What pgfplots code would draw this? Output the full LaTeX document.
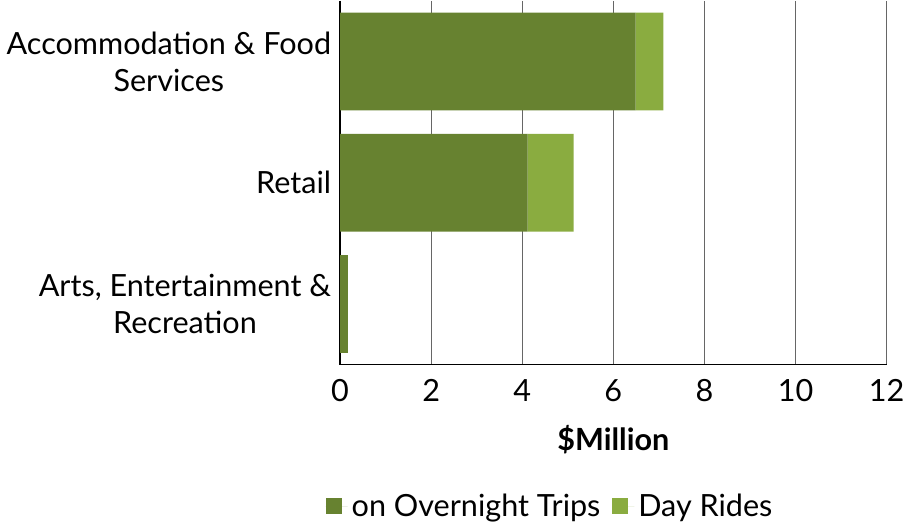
\documentclass[border=0pt]{standalone}
\usepackage{pgfplots}
\pgfplotsset{compat=1.18}
\usepackage{fontspec}
\setmainfont{Lato}
\definecolor{darkg}{HTML}{678230}
\definecolor{lightg}{HTML}{8AAC40}
\newcommand{\fs}{\fontsize{15.3}{18.5}\selectfont}
\begin{document}
\begin{tikzpicture}
\begin{axis}[
  scale only axis,
  width=273.5pt, height=182pt,
  xbar stacked,
  bar width=49pt,
  xmin=0, xmax=12,
  ymin=-0.5, ymax=2.5,
  y dir=reverse,
  ytick={0,1,2},
  yticklabels={{Accommodation \& Food\\Services},{Retail},{Arts, Entertainment \&\\Recreation}},
  yticklabel style={align=center, font=\fs, xshift=-1pt},
  xtick={0,2,4,6,8,10,12},
  xticklabel style={font=\fs, yshift=-4pt},
  /pgf/number format/assume math mode=true,
  xlabel={\textbf{\$Million}},
  xlabel style={font=\fs, yshift=-5pt},
  axis x line*=bottom,
  axis y line*=left,
  axis line style={black, line width=0.9pt},
  xmajorgrids,
  grid style={gray!80!black, line width=0.6pt},
  major tick length=0pt,
  tick style={draw=none},
  legend style={at={(0.386,-0.39)}, anchor=center, draw=none, legend columns=2,
    font=\fs, /tikz/every even column/.append style={column sep=4pt}},
  legend image code/.code={\fill[#1] (0pt,-4pt) rectangle (8pt,4pt); \path (0pt,0pt) -- (11pt,0pt);},
]
\addplot[fill=darkg, draw=none] coordinates {(6.49,0) (4.12,1) (0.17,2)};
\addplot[fill=lightg, draw=none] coordinates {(0.61,0) (1.01,1) (0,2)};
\legend{on Overnight Trips, Day Rides}
\end{axis}
\end{tikzpicture}
\end{document}
